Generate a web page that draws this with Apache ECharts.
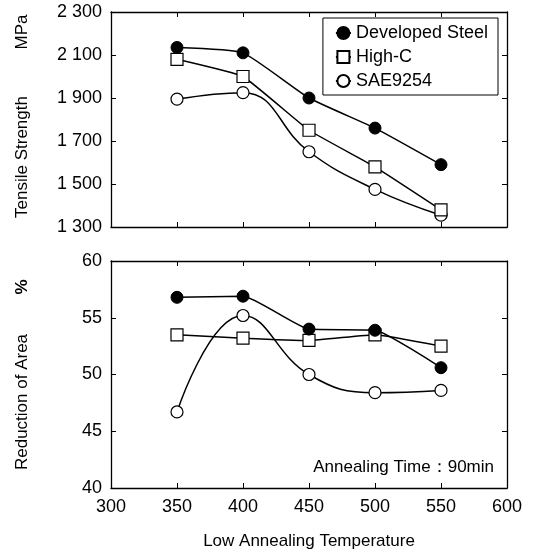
<!DOCTYPE html>
<html>
<head>
<meta charset="utf-8">
<script src="https://cdn.jsdelivr.net/npm/echarts@6/dist/echarts.min.js"></script>
<style>html,body{margin:0;padding:0;background:#fff}#c{width:536px;height:553px}</style>
</head>
<body>
<div id="c"></div>
<script>
const temps = [350, 400, 450, 500, 550];
const seriesNames = ['Developed Steel', 'High-C', 'SAE9254'];
const tensileDeveloped = [2135, 2110, 1900, 1760, 1590];
const tensileHighC = [2080, 2000, 1750, 1580, 1380];
const tensileSAE = [1895, 1925, 1650, 1475, 1355];
const raDeveloped = [56.8, 56.9, 54.0, 53.9, 50.6];
const raHighC = [53.5, 53.2, 53.0, 53.5, 52.5];
const raSAE = [46.7, 55.2, 50.0, 48.4, 48.6];
const xTicks = [300, 350, 400, 450, 500, 550, 600];
const tensileTicks = [1300, 1500, 1700, 1900, 2100, 2300];
const raTicks = [40, 45, 50, 55, 60];

const FONT = 'Liberation Sans';
const pairs = (ys) => temps.map((t, i) => [t, ys[i]]);
const fmtThousands = (v) => v >= 1000 ? Math.floor(v / 1000) + ' ' + String(v % 1000).padStart(3, '0') : String(v);

const styles = [
  { symbol: 'circle', itemStyle: { color: '#000', borderColor: '#000', borderWidth: 1 } },
  { symbol: 'rect', itemStyle: { color: '#fff', borderColor: '#000', borderWidth: 1.2 } },
  { symbol: 'circle', itemStyle: { color: '#fff', borderColor: '#000', borderWidth: 1.2 } }
];
const smooths = [0.15, 0.1, 0.45];

function mkSeries(name, idx, data, axisIdx) {
  return Object.assign({
    name: name, type: 'line', xAxisIndex: axisIdx, yAxisIndex: axisIdx,
    data: pairs(data), symbolSize: 12, smooth: smooths[idx],
    lineStyle: { color: '#000', width: 1.5 }, z: 3 - idx + 2
  }, styles[idx]);
}

const axisLine = { show: true, lineStyle: { color: '#000', width: 1.3 } };
const tick = { show: true, inside: true, length: 5, lineStyle: { color: '#000', width: 1 } };
const lbl = { color: '#000', fontFamily: FONT, fontSize: 18 };

function xAx(grid, pos, showLabel) {
  return {
    type: 'value', gridIndex: grid, position: pos, min: xTicks[0], max: xTicks[xTicks.length - 1], interval: 50,
    axisLine: axisLine, axisTick: tick, splitLine: { show: false },
    axisLabel: Object.assign({ show: showLabel, margin: 10 }, lbl)
  };
}
function yAx(grid, pos, ticks, showLabel, fmt) {
  return {
    type: 'value', gridIndex: grid, position: pos, min: ticks[0], max: ticks[ticks.length - 1],
    interval: ticks[1] - ticks[0],
    axisLine: axisLine, axisTick: tick, splitLine: { show: false },
    axisLabel: Object.assign({ show: showLabel, margin: 9, formatter: fmt }, lbl)
  };
}

const xa = [xAx(0, 'bottom', false), xAx(0, 'top', false), xAx(1, 'bottom', true), xAx(1, 'top', false)];
xa[2].name = 'Low Annealing Temperature';
xa[2].nameLocation = 'middle';
xa[2].nameGap = 45;
xa[2].nameTextStyle = { color: '#000', fontFamily: FONT, fontSize: 17 };

const ya = [
  yAx(0, 'left', tensileTicks, true, fmtThousands), yAx(0, 'right', tensileTicks, false),
  yAx(1, 'left', raTicks, true), yAx(1, 'right', raTicks, false)
];

const chart = echarts.init(document.getElementById('c'), null, { renderer: 'canvas' });
chart.setOption({
  backgroundColor: '#fff',
  animation: false,
  grid: [
    { left: 111, top: 12, width: 396, height: 215 },
    { left: 111, top: 261, width: 396, height: 227 }
  ],
  xAxis: xa,
  yAxis: ya,
  legend: {
    data: seriesNames, orient: 'vertical', right: 38, top: 18,
    borderColor: '#000', borderWidth: 1, padding: [6, 10, 5, 12], itemGap: 6,
    itemWidth: 15, itemHeight: 15, backgroundColor: '#fff',
    textStyle: { color: '#000', fontFamily: FONT, fontSize: 18 }
  },
  graphic: [
    { type: 'text', x: 22, y: 32, rotation: Math.PI / 2, style: { text: 'MPa', font: '17px "Liberation Sans"', fill: '#000', align: 'center', verticalAlign: 'middle' } },
    { type: 'text', x: 22, y: 157, rotation: Math.PI / 2, style: { text: 'Tensile Strength', font: '17px "Liberation Sans"', fill: '#000', align: 'center', verticalAlign: 'middle' } },
    { type: 'text', x: 22, y: 287, rotation: Math.PI / 2, style: { text: '%', font: 'bold 17px "Liberation Sans"', fill: '#000', align: 'center', verticalAlign: 'middle' } },
    { type: 'text', x: 22, y: 402, rotation: Math.PI / 2, style: { text: 'Reduction of Area', font: '17px "Liberation Sans"', fill: '#000', align: 'center', verticalAlign: 'middle' } },
    { type: 'text', x: 494, y: 467, style: { text: 'Annealing Time：90min', font: '17px "Liberation Sans"', fill: '#000', align: 'right', verticalAlign: 'middle' } }
  ],
  series: [
    mkSeries(seriesNames[0], 0, tensileDeveloped, 0),
    mkSeries(seriesNames[1], 1, tensileHighC, 0),
    mkSeries(seriesNames[2], 2, tensileSAE, 0),
    mkSeries(seriesNames[0], 0, raDeveloped, 2),
    mkSeries(seriesNames[1], 1, raHighC, 2),
    mkSeries(seriesNames[2], 2, raSAE, 2)
  ]
});
</script>
</body>
</html>
